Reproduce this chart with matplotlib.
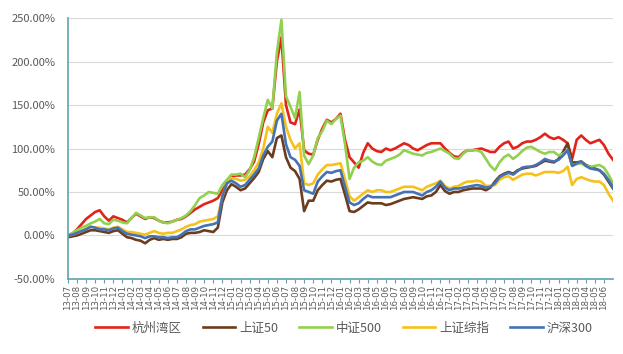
import numpy as np
import pandas as pd
import matplotlib
matplotlib.use("Agg")
import matplotlib.pyplot as plt
from matplotlib.ticker import FuncFormatter

plt.rcParams['font.family'] = ['Noto Sans CJK SC', 'DejaVu Sans']

# half-month sample points, months since 2013-07
t_months = np.arange(121) * 0.5
month_labels = list(pd.date_range('2013-07-01', periods=60, freq='MS').strftime('%y-%m'))

hangzhou = [0,2,7,13,19,23,27,29,22,17,
            22,20,18,15,20,25,22,19,21,20,
            17,15,15,16,18,19,22,26,30,33,
            36,38,40,43,52,60,68,69,69,70,
            76,85,105,130,144,146,200,228,150,130,
            128,145,98,94,93,110,123,133,130,134,
            140,110,90,84,78,95,106,100,97,96,
            100,98,100,103,106,104,100,98,101,104,
            106,106,106,100,95,91,90,95,98,98,
            99,100,98,96,96,102,106,108,100,102,
            106,108,108,110,113,117,113,111,113,110,
            106,88,110,115,110,106,108,110,104,94,
            87]
sz50 = [-2,-1,0,2,4,6,6,5,4,3,
        5,6,2,-2,-3,-5,-6,-9,-5,-3,
        -5,-4,-5,-4,-4,-2,2,3,3,4,
        6,5,4,9,38,52,59,56,52,54,
        60,66,73,88,97,90,112,115,90,78,
        74,65,28,40,40,52,58,63,62,64,
        65,47,28,27,30,34,38,37,37,37,
        35,36,38,40,42,43,44,43,42,45,
        46,50,58,51,48,50,50,52,53,54,
        54,54,52,55,62,68,71,73,71,75,
        77,78,79,80,83,86,85,84,88,96,
        106,84,84,85,81,79,77,75,70,62,
        54]
zz500 = [0,3,6,9,11,14,16,19,14,13,
         18,17,15,14,20,26,23,20,21,21,
         17,15,14,16,18,20,23,28,35,43,
         46,50,49,48,58,64,70,70,71,67,
         75,90,112,135,156,146,210,248,160,148,
         135,165,92,82,92,112,120,132,128,134,
         138,105,65,78,84,86,90,85,82,81,
         86,88,90,93,98,96,94,93,92,95,
         96,98,100,97,94,89,88,94,98,98,
         98,96,88,80,75,84,90,93,88,92,
         97,101,102,99,96,94,96,96,92,94,
         98,80,82,83,80,79,80,81,78,70,
         60]
szzz = [0,1,3,5,8,10,9,9,8,7,
        9,10,7,4,4,3,2,1,3,5,
        3,2,3,3,5,7,10,12,13,16,
        17,18,19,22,45,60,66,65,63,64,
        68,75,84,100,125,118,140,152,125,110,
        100,106,60,58,60,70,76,81,81,82,
        83,65,45,40,44,48,52,50,52,52,
        50,50,52,54,56,56,56,54,52,56,
        58,60,63,57,54,56,57,60,62,62,
        63,62,57,57,58,64,67,68,64,67,
        70,71,71,69,71,73,73,73,72,74,
        79,58,65,67,65,63,62,62,58,48,
        40]
hs300 = [0,1,3,5,7,10,9,7,7,6,
         8,9,5,2,1,0,-1,-3,-1,-1,
         -2,-2,-3,-2,-2,1,5,7,7,9,
         11,12,13,15,45,60,63,60,56,58,
         64,70,77,92,102,108,132,140,105,90,
         87,80,52,50,48,62,68,73,72,74,
         75,56,38,35,37,42,46,44,44,44,
         44,44,46,48,50,50,50,48,46,50,
         52,56,62,55,52,54,54,55,56,57,
         58,57,55,56,60,67,70,72,70,74,
         78,79,79,81,84,88,86,85,87,92,
         98,80,83,85,80,77,76,75,71,64,
         55]

series_names = ['杭州湾区', '上证50', '中证500', '上证综指', '沪深300']
series_values = [hangzhou, sz50, zz500, szzz, hs300]
colors = ['#E2231A', '#6B3D1E', '#92D050', '#F5C21B', '#4472B4']

fig = plt.figure(figsize=(6.23, 3.54), dpi=100)
ax = fig.add_axes([0.109, 0.212, 0.875, 0.737])

for name, vals, c in zip(series_names, series_values, colors):
    ax.plot(t_months, vals, color=c, lw=1.9, label=name, solid_joinstyle='round')

ax.set_ylim(-50, 250)
ax.set_yticks(np.arange(-50, 251, 50))
ax.yaxis.set_major_formatter(FuncFormatter(lambda v, p: f'{v:.2f}%'))
ax.set_xlim(0, 60)
ax.set_xticks(np.arange(len(month_labels)))
ax.set_xticklabels(month_labels, rotation=90, fontsize=6.2, color='#595959',
                   family=['DejaVu Sans'])
ax.tick_params(axis='x', length=3, width=0.8, color='#5FA3AB', pad=1.5, direction='out')
ax.tick_params(axis='y', length=0, labelsize=8, labelcolor='#595959', pad=9)
ax.grid(axis='y', color='#D9D9D9', lw=0.8)
ax.set_axisbelow(True)
for s in ['top', 'right']:
    ax.spines[s].set_visible(False)
for s in ['left', 'bottom']:
    ax.spines[s].set_color('#5FA3AB')
    ax.spines[s].set_linewidth(1.2)

leg = fig.legend(loc='center', bbox_to_anchor=(0.552, 0.073), ncol=5, frameon=False,
                 fontsize=9, handlelength=2.6, columnspacing=1.7, handletextpad=0.3)
for txt in leg.get_texts():
    txt.set_color('#595959')

fig.savefig('out.png', dpi=100)
